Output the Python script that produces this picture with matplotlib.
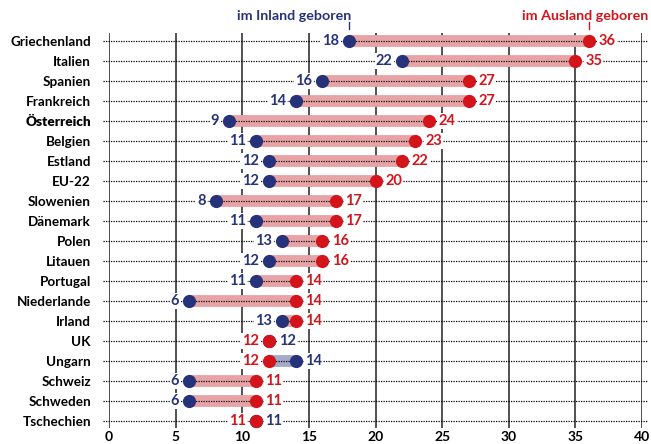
import matplotlib
matplotlib.use('Agg')
import matplotlib.pyplot as plt

# data
laender = ["Griechenland", "Italien", "Spanien", "Frankreich", "Österreich", "Belgien",
           "Estland", "EU-22", "Slowenien", "Dänemark", "Polen", "Litauen", "Portugal",
           "Niederlande", "Irland", "UK", "Ungarn", "Schweiz", "Schweden", "Tschechien"]
inland = [18, 22, 16, 14, 9, 11, 12, 12, 8, 11, 13, 12, 11, 6, 13, 12, 14, 6, 6, 11]
ausland = [36, 35, 27, 27, 24, 23, 22, 20, 17, 17, 16, 16, 14, 14, 14, 12, 12, 11, 11, 11]
xticks = [0, 5, 10, 15, 20, 25, 30, 35, 40]

BLUE = "#26337a"
RED = "#d3141b"
PALE_RED = "#e8a3a6"
PALE_BLUE = "#a3a9c9"

plt.rcParams['font.family'] = ['Lato', 'DejaVu Sans']

fig = plt.figure(figsize=(6.51, 4.44), dpi=100)
ax = fig.add_axes([109 / 651, 1 - 428 / 444, (642 - 109) / 651, (428 - 33) / 444])
n = len(laender)
ax.set_xlim(0, 40)
ax.set_ylim(n - 0.65, -0.4)

# vertical grid
for t in xticks:
    ax.axvline(t, color="#333333", lw=1.2, zorder=1)

lab_kw = dict(textcoords="offset points", va="center", fontsize=10.5, fontweight="bold",
              bbox=dict(boxstyle="square,pad=0.08", fc="white", ec="none"), zorder=6)

for i, (name, a, b) in enumerate(zip(laender, inland, ausland)):
    # dotted row line
    ax.plot([-0.45, 40.4], [i, i], color="black", lw=0.9, ls=(0, (1, 1)), zorder=3,
            clip_on=False)
    band = PALE_BLUE if a > b else PALE_RED
    ax.plot([a, b], [i, i], color=band, lw=8.5, solid_capstyle="butt", zorder=2)
    ax.plot(a, i, "o", color=BLUE, ms=9.5, mec="none", zorder=4)
    ax.plot(b, i, "o", color=RED, ms=9.5, mec="none", zorder=5)
    if a < b:
        ax.annotate(str(a), (a, i), xytext=(-7, 0), ha="right", color=BLUE, **lab_kw)
        ax.annotate(str(b), (b, i), xytext=(7, 0), ha="left", color=RED, **lab_kw)
    else:
        ax.annotate(str(b), (b, i), xytext=(-7, 0), ha="right", color=RED, **lab_kw)
        ax.annotate(str(a), (a, i), xytext=(7, 0), ha="left", color=BLUE, **lab_kw)

ax.set_yticks(range(n))
ax.set_yticklabels(laender, fontsize=9.7, fontweight="bold")
for lbl in ax.get_yticklabels():
    if lbl.get_text() == "Österreich":
        lbl.set_fontweight("heavy")
ax.set_xticks(xticks)
ax.set_xticklabels([str(t) for t in xticks], fontsize=10, fontweight="bold")
ax.tick_params(length=0)
ax.tick_params(axis="x", pad=2)
ax.tick_params(axis="y", pad=13)
for s in ax.spines.values():
    s.set_visible(False)

# header labels
ax.text(inland[0] + 0.2, -0.95, "im Inland geboren", ha="right", va="bottom",
        color=BLUE, fontsize=10.3, fontweight="bold", clip_on=False)
ax.text(40.45, -0.95, "im Ausland geboren", ha="right", va="bottom",
        color=RED, fontsize=10.3, fontweight="bold", clip_on=False)
ax.plot([inland[0], inland[0]], [-0.95, -0.6], color=BLUE, lw=1, clip_on=False)
ax.plot([ausland[0], ausland[0]], [-0.95, -0.6], color=RED, lw=1, clip_on=False)

fig.savefig("out.png", dpi=100)
